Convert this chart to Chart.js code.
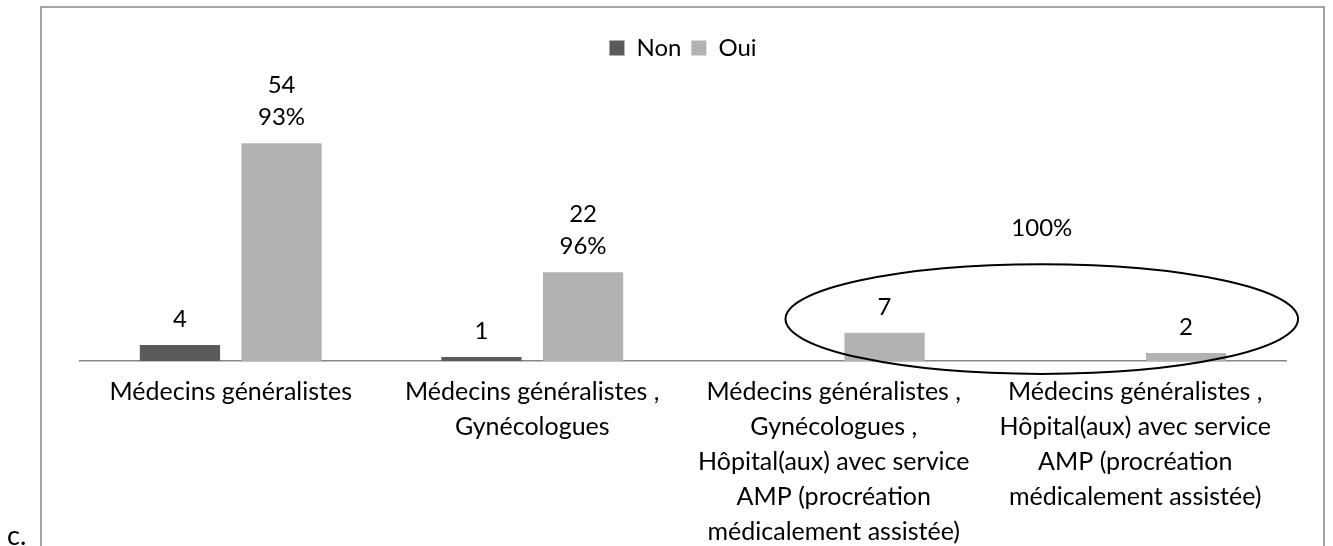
<!DOCTYPE html>
<html>
<head>
<meta charset="utf-8">
<title>Orientation</title>
<script src="https://cdn.jsdelivr.net/npm/chart.js@4/dist/chart.umd.min.js"></script>
<style>
    html, body { margin: 0; padding: 0; background: #fff; overflow: hidden; }
    #wrap { position: relative; width: 1333px; height: 546px; }
</style>
</head>
<body>
<div id="wrap"><canvas id="myChart" width="1333" height="546"></canvas></div>
<script>
// categories (x axis, multi-line)
const categories = [
    ['Médecins généralistes'],
    ['Médecins généralistes ,', 'Gynécologues'],
    ['Médecins généralistes ,', 'Gynécologues ,', 'Hôpital(aux) avec service', 'AMP (procréation', 'médicalement assistée)'],
    ['Médecins généralistes ,', 'Hôpital(aux) avec service', 'AMP (procréation', 'médicalement assistée)']
];
const seriesNames = ['Non', 'Oui'];
const nonValues = [4, 1, null, null];
const ouiValues = [54, 22, 7, 2];
// share of "Oui" printed above the bar (last two share one label)
const ouiPercent = ['93%', '96%', null, null];
const groupPercent = '100%';

const fontName = 'Lato';
const colNon = '#5b5b5b';
const colOui = '#b2b2b2';
const axisGrey = '#868686';

// frame, "c." and the ellipse with its label
const decorPlugin = {
    id: 'decor',
    beforeDraw(chart) {
        const ctx = chart.ctx;
        ctx.save();
        ctx.strokeStyle = axisGrey;
        ctx.lineWidth = 1.5;
        ctx.strokeRect(41, 7, 1283, 600);
        ctx.fillStyle = '#000';
        ctx.font = '27px ' + fontName;
        ctx.textBaseline = 'alphabetic';
        ctx.fillText('c.', 7, 545);
        ctx.restore();
    },
    afterDatasetsDraw(chart) {
        const ctx = chart.ctx;
        const x = chart.scales.x;
        const y = chart.scales.y;
        ctx.save();
        ctx.fillStyle = '#000';
        ctx.font = '24px ' + fontName;
        ctx.textAlign = 'center';
        ctx.textBaseline = 'middle';

        chart.data.datasets.forEach((ds, di) => {
            const meta = chart.getDatasetMeta(di);
            meta.data.forEach((bar, i) => {
                const v = ds.data[i];
                if (v === null) return;
                const pct = di === 1 ? ouiPercent[i] : null;
                if (pct) {
                    ctx.fillText(pct, bar.x, bar.y - 26);
                    ctx.fillText(String(v), bar.x, bar.y - 58);
                } else {
                    ctx.fillText(String(v), bar.x, bar.y - 26);
                }
            });
        });

        // ellipse round the last two groups
        const cx = x.getPixelForValue(2.69);
        const rx = x.getPixelForValue(3.54) - cx;
        const cy = y.getPixelForValue(10.4);
        const ry = y.getPixelForValue(0) - y.getPixelForValue(13.6);
        ctx.beginPath();
        ctx.ellipse(cx, cy, rx, ry, 0, 0, Math.PI * 2);
        ctx.strokeStyle = '#000';
        ctx.lineWidth = 2;
        ctx.stroke();
        ctx.fillText(groupPercent, cx, cy - ry - 36);
        ctx.restore();
    }
};

const ctx = document.getElementById('myChart').getContext('2d');
const data = {
    labels: categories,
    datasets: [{
        label: seriesNames[0],
        data: nonValues,
        backgroundColor: colNon,
        borderWidth: 0
    },
        {
            label: seriesNames[1],
            data: ouiValues,
            backgroundColor: colOui,
            borderWidth: 0
        }
    ]
};
const config = {
    type: 'bar',
    data: data,
    options: {
        responsive: false,
        animation: false,
        categoryPercentage: 0.674,
        barPercentage: 0.79,
        layout: {
            padding: {left: 80, right: 47, top: 26, bottom: 0}
        },
        plugins: {
            legend: {
                position: 'top',
                labels: {
                    color: '#000',
                    boxWidth: 15,
                    boxHeight: 15,
                    padding: 10,
                    font: {family: fontName, size: 24}
                }
            },
            tooltip: {enabled: false}
        },
        scales: {
            x: {
                grid: {display: false, drawTicks: false},
                border: {display: true, color: axisGrey, width: 1.5},
                ticks: {
                    color: '#000',
                    padding: 13,
                    maxRotation: 0,
                    autoSkip: false,
                    font: {family: fontName, size: 25, lineHeight: 1.4}
                },
                afterFit: (scale) => {
                    scale.height = 185;
                }
            },
            y: {
                display: false,
                min: 0,
                max: 72.2
            }
        }
    },
    plugins: [decorPlugin]
};
const myChart = new Chart(ctx, config);
</script>
</body>
</html>
